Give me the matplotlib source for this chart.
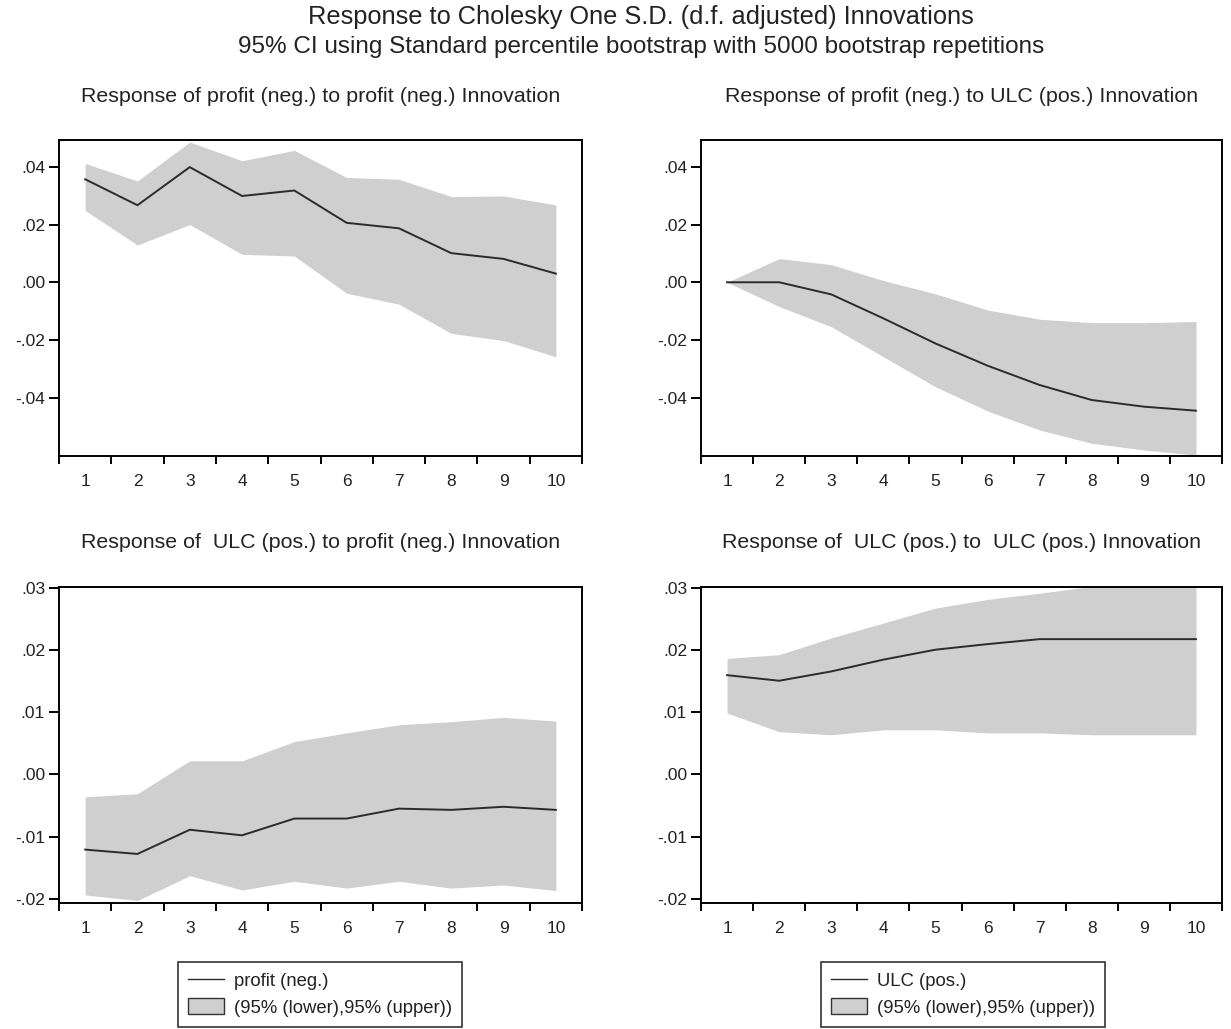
import matplotlib
matplotlib.use("Agg")
import matplotlib.pyplot as plt
from matplotlib.lines import Line2D
from matplotlib.patches import Patch
from matplotlib.ticker import FuncFormatter, FixedLocator

plt.rcParams['font.family'] = ['Liberation Sans', 'DejaVu Sans']

periods = [1, 2, 3, 4, 5, 6, 7, 8, 9, 10]

# Response of profit (neg.) to profit (neg.) innovation
pp_resp = [0.0357, 0.0267, 0.0399, 0.0299, 0.0318, 0.0206, 0.0187, 0.0101, 0.0081, 0.0030]
pp_upper = [0.0412, 0.0351, 0.0486, 0.0421, 0.0457, 0.0363, 0.0357, 0.0297, 0.0299, 0.0268]
pp_lower = [0.0249, 0.0129, 0.0200, 0.0097, 0.0091, -0.0038, -0.0076, -0.0177, -0.0202, -0.0258]

# Response of profit (neg.) to ULC (pos.) innovation
pu_resp = [0.0, 0.0, -0.0042, -0.0125, -0.0212, -0.0289, -0.0356, -0.0408, -0.0431, -0.0445]
pu_upper = [0.0, 0.0082, 0.0061, 0.0006, -0.0040, -0.0096, -0.0128, -0.0140, -0.0140, -0.0136]
pu_lower = [0.0, -0.0084, -0.0154, -0.0258, -0.0362, -0.0446, -0.0512, -0.0558, -0.0581, -0.0599]

# Response of ULC (pos.) to profit (neg.) innovation
up_resp = [-0.0121, -0.0128, -0.0089, -0.0098, -0.0071, -0.0071, -0.0055, -0.0057, -0.0052, -0.0057]
up_upper = [-0.0036, -0.0031, 0.0022, 0.0022, 0.0053, 0.0067, 0.0080, 0.0085, 0.0092, 0.0086]
up_lower = [-0.0194, -0.0203, -0.0163, -0.0186, -0.0172, -0.0183, -0.0172, -0.0183, -0.0178, -0.0187]

# Response of ULC (pos.) to ULC (pos.) innovation
uu_resp = [0.0160, 0.0151, 0.0166, 0.0185, 0.0201, 0.0210, 0.0218, 0.0218, 0.0218, 0.0218]
uu_upper = [0.0187, 0.0193, 0.0220, 0.0244, 0.0268, 0.0282, 0.0292, 0.0303, 0.0306, 0.0308]
uu_lower = [0.0099, 0.0069, 0.0064, 0.0072, 0.0072, 0.0067, 0.0067, 0.0064, 0.0064, 0.0064]

main_title_1 = "Response to Cholesky One S.D. (d.f. adjusted) Innovations"
main_title_2 = "95% CI using Standard percentile bootstrap with 5000 bootstrap repetitions"
panel_titles = [
    "Response of profit (neg.) to profit (neg.) Innovation",
    "Response of profit (neg.) to ULC (pos.) Innovation",
    "Response of  ULC (pos.) to profit (neg.) Innovation",
    "Response of  ULC (pos.) to  ULC (pos.) Innovation",
]
top_yticks = [-0.04, -0.02, 0.00, 0.02, 0.04]
bottom_yticks = [-0.02, -0.01, 0.00, 0.01, 0.02, 0.03]
legend_labels_left = ["profit (neg.)", "(95% (lower),95% (upper))"]
legend_labels_right = ["ULC (pos.)", "(95% (lower),95% (upper))"]

BAND = "#cfcfcf"
LINE = "#2b2b2b"
TEXT = "#222222"

W, H = 1231, 1029
fig = plt.figure(figsize=(W / 100, H / 100), dpi=100)


def px_axes(left, top, right, bottom):
    return fig.add_axes([left / W, 1 - bottom / H, (right - left) / W, (bottom - top) / H])


def eviews_fmt(v, _pos):
    s = f"{v:.2f}"
    return s.replace("0.", ".", 1)


def draw_panel(ax, resp, lower, upper, yticks, ylim):
    ax.fill_between(periods, lower, upper, color=BAND, lw=0)
    ax.plot(periods, resp, color=LINE, lw=1.4)
    ax.set_xlim(0.5, 10.5)
    ax.set_ylim(*ylim)
    ax.xaxis.set_major_locator(FixedLocator(periods))
    ax.xaxis.set_minor_locator(FixedLocator([p - 0.5 for p in periods] + [10.5]))
    ax.tick_params(axis='x', which='major', length=0, pad=13, labelsize=12.5, colors=TEXT)
    ax.tick_params(axis='x', which='minor', length=6, width=1.4, direction='out', color='black')
    ax.yaxis.set_major_locator(FixedLocator(yticks))
    ax.yaxis.set_major_formatter(FuncFormatter(eviews_fmt))
    ax.tick_params(axis='y', which='major', length=7, width=1.4, direction='out', pad=3,
                   labelsize=12.5, labelcolor=TEXT, color='black')
    ax.yaxis.set_minor_locator(FixedLocator([]))
    for s in ax.spines.values():
        s.set_linewidth(1.4)
        s.set_color('black')


top_ylim = (-0.0602, 0.0493)
bot_ylim = (-0.0207, 0.0302)

ax1 = px_axes(59, 140, 582, 456)
ax2 = px_axes(701, 140, 1222, 456)
ax3 = px_axes(59, 587, 582, 903)
ax4 = px_axes(701, 587, 1222, 903)

draw_panel(ax1, pp_resp, pp_lower, pp_upper, top_yticks, top_ylim)
draw_panel(ax2, pu_resp, pu_lower, pu_upper, top_yticks, top_ylim)
draw_panel(ax3, up_resp, up_lower, up_upper, bottom_yticks, bot_ylim)
draw_panel(ax4, uu_resp, uu_lower, uu_upper, bottom_yticks, bot_ylim)

# panel headings, centred over each plotting box
for (cx, cy), title in zip([(321, 96), (962, 96), (321, 543), (962, 543)], panel_titles):
    fig.text(cx / W, 1 - cy / H, title, ha='center', va='center', fontsize=15.4, color=TEXT)

fig.text(641 / W, 1 - 17 / H, main_title_1, ha='center', va='center', fontsize=18.3, color=TEXT)
fig.text(641 / W, 1 - 47 / H, main_title_2, ha='center', va='center', fontsize=17.5, color=TEXT)


def add_legend(labels, cx):
    handles = [Line2D([], [], color=LINE, lw=1.0),
               Patch(facecolor=BAND, edgecolor='#333333', linewidth=1.0)]
    leg = fig.legend(handles, labels, loc='upper center',
                     bbox_to_anchor=(cx / W, 1 - 962 / H), fontsize=13.3,
                     frameon=True, fancybox=False, edgecolor='black',
                     handlelength=1.95, handleheight=0.95, handletextpad=0.5,
                     borderpad=0.55, labelspacing=0.42, borderaxespad=0)
    leg.get_frame().set_linewidth(1.2)
    for t in leg.get_texts():
        t.set_color(TEXT)
    return leg


add_legend(legend_labels_left, 320)
add_legend(legend_labels_right, 963)

fig.savefig("out.png", dpi=100)
